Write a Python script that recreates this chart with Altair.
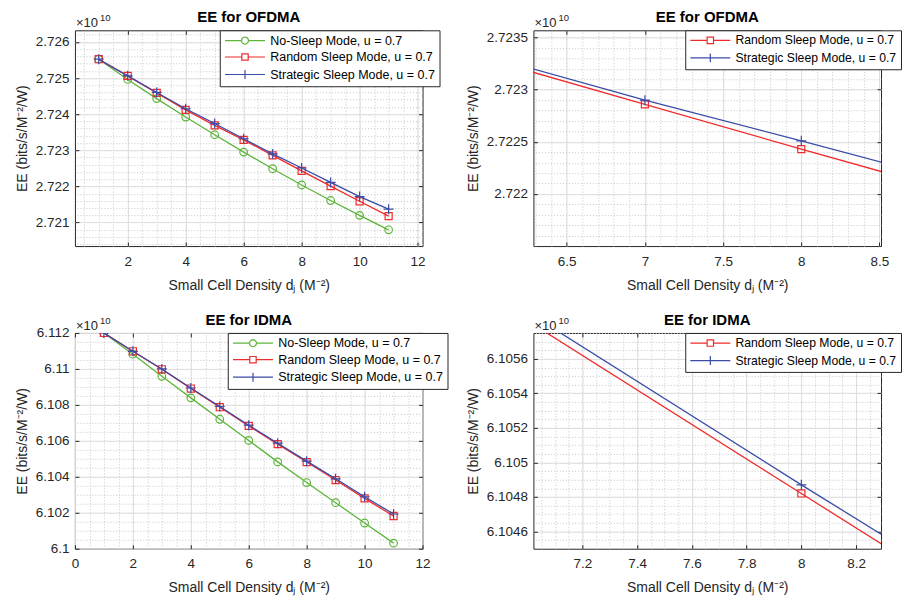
import altair as alt
import numpy as np
import pandas as pd

# ---------------- data (EE values in units of 1e10) ----------------
DENSITY = [1, 2, 3, 4, 5, 6, 7, 8, 9, 10, 11]
SERIES = ["No-Sleep Mode, u = 0.7", "Random Sleep Mode, u = 0.7", "Strategic Sleep Mode, u = 0.7"]

OFDMA_NO_SLEEP = [2.72552, 2.72496, 2.72443, 2.72392, 2.72343, 2.72295, 2.72249, 2.72204, 2.72161, 2.72120, 2.72080]
OFDMA_RANDOM = [2.72552, 2.72506, 2.72459, 2.72412, 2.72369, 2.72329, 2.72286, 2.72243, 2.72201, 2.72159, 2.72118]
OFDMA_STRATEGIC = [2.72552, 2.72506, 2.72460, 2.72415, 2.72374, 2.72332, 2.72290, 2.72251, 2.72211, 2.72172, 2.72137]

IDMA_NO_SLEEP = [6.11200, 6.11082, 6.10959, 6.10839, 6.10720, 6.10602, 6.10483, 6.10368, 6.10256, 6.10143, 6.10031]
IDMA_RANDOM = [6.11200, 6.11098, 6.10998, 6.10891, 6.10787, 6.10683, 6.10582, 6.10482, 6.10382, 6.10280, 6.10182]
IDMA_STRATEGIC = [6.11200, 6.11098, 6.11000, 6.10894, 6.10791, 6.10687, 6.10587, 6.10487, 6.10389, 6.10289, 6.10193]

EXPONENT_BASE = ["\u00d710"]
EXPONENT_POWER = ["10"]

# ---------------- styles ----------------
FONT = "Liberation Sans"
INK = "#262626"
GRID = "#dedede"
MINOR = "#c6c6c6"
COLORS = {SERIES[0]: "#5db53b", SERIES[1]: "#ef2b2b", SERIES[2]: "#3a4ca6"}
X_TITLE = "Small Cell Density d\u2c7c (M\u207b\u00b2)"
Y_TITLE = "EE (bits/s/M\u207b\u00b2/W)"
W, H = 348, 216

# legend symbols: a 40px line with the marker in the middle (size 64 -> 4px per unit)
U = 4.0
L0, L1, MC = -5 / U, 35 / U, 15 / U


def circle_poly(cx, r, n=20):
    pts = [(cx + r * np.cos(2 * np.pi * k / n), r * np.sin(2 * np.pi * k / n)) for k in range(n)]
    return "M" + "L".join(f"{x:.3f},{y:.3f}" for x, y in pts) + "Z"


r_c = 3.5 / U
s_q = 3.2 / U
a_p = 4.5 / U
LEGEND_PATHS = {
    SERIES[0]: f"M{L0},0H{MC - r_c:.3f}M{MC + r_c:.3f},0H{L1}" + circle_poly(MC, r_c),
    SERIES[1]: f"M{L0},0H{MC - s_q:.3f}M{MC + s_q:.3f},0H{L1}"
    f"M{MC - s_q:.3f},{-s_q:.3f}H{MC + s_q:.3f}V{s_q:.3f}H{MC - s_q:.3f}Z",
    SERIES[2]: f"M{L0},0H{L1}M{MC:.3f},{-a_p:.3f}V{a_p:.3f}",
}
MARKERS = {SERIES[0]: ("circle", 58), SERIES[1]: ("square", 50), SERIES[2]: ("M-1,0H1M0,-1V1", 100)}


def long_df(columns):
    rows = []
    for name, vals in columns:
        for d, v in zip(DENSITY, vals):
            rows.append({"d": d, "ee": v, "series": name})
    return pd.DataFrame(rows)


def minor_values(lo, hi, step):
    n = int(round((hi - lo) / step))
    return [round(lo + k * step, 7) for k in range(n + 1)]


def panel(df, series, title, xdom, ydom, xticks, yticks, xminor, yminor, xfmt, yfmt, legend_x, legend_font):
    xs = alt.Scale(domain=xdom, nice=False, zero=False)
    ys = alt.Scale(domain=ydom, nice=False, zero=False)
    cs = alt.Scale(domain=series, range=[COLORS[s] for s in series])
    base = alt.Chart(df)

    def hidden_axes(xaxis, yaxis):
        return base.mark_point(opacity=0, clip=True).encode(
            x=alt.X("d:Q", scale=xs, axis=xaxis),
            y=alt.Y("ee:Q", scale=ys, axis=yaxis),
        )

    minor = hidden_axes(
        alt.Axis(orient="top", values=xminor, grid=True, gridDash=[1, 2], gridColor=MINOR, gridWidth=1,
                 labels=False, ticks=False, domain=False, title=None),
        alt.Axis(orient="right", values=yminor, grid=True, gridDash=[1, 2], gridColor=MINOR, gridWidth=1,
                 labels=False, ticks=False, domain=False, title=None),
    )
    ticks_bl = hidden_axes(
        alt.Axis(orient="bottom", values=xticks, offset=-4, ticks=True, tickSize=4, tickColor=INK,
                 tickWidth=1, labels=False, domain=False, grid=False, title=None),
        alt.Axis(orient="left", values=yticks, offset=-4, ticks=True, tickSize=4, tickColor=INK,
                 tickWidth=1, labels=False, domain=False, grid=False, title=None),
    )
    ticks_tr = hidden_axes(
        alt.Axis(orient="top", values=xticks, offset=-4, ticks=True, tickSize=4, tickColor=INK,
                 tickWidth=1, labels=False, domain=False, grid=False, title=None),
        alt.Axis(orient="right", values=yticks, offset=-4, ticks=True, tickSize=4, tickColor=INK,
                 tickWidth=1, labels=False, domain=False, grid=False, title=None),
    )

    main_axes = base.mark_point(opacity=0, clip=True).encode(
        x=alt.X("d:Q", scale=xs, axis=alt.Axis(
            orient="bottom", values=xticks, format=xfmt, grid=True, gridColor=GRID, gridWidth=1,
            ticks=False, tickSize=0, domain=False, labelPadding=8, labelFlush=False, labelOverlap=False,
            title=X_TITLE, titlePadding=10.5)),
        y=alt.Y("ee:Q", scale=ys, axis=alt.Axis(
            orient="left", values=yticks, format=yfmt, grid=True, gridColor=GRID, gridWidth=1,
            ticks=False, tickSize=0, domain=False, labelPadding=6, labelFlush=False, labelOverlap=False,
            title=Y_TITLE, titlePadding=6)),
    )

    series_layers = []
    for s in series:
        shape, size = MARKERS[s]
        sub = base.transform_filter(alt.datum.series == s)
        series_layers.append(
            sub.mark_line(clip=True, strokeWidth=1.3, color=COLORS[s]).encode(
                x=alt.X("d:Q", scale=xs, axis=None),
                y=alt.Y("ee:Q", scale=ys, axis=None),
            )
        )
        series_layers.append(
            sub.mark_point(shape=shape, size=size, filled=False, strokeWidth=1.2, clip=True,
                           opacity=1, color=COLORS[s]).encode(
                x=alt.X("d:Q", scale=xs, axis=None),
                y=alt.Y("ee:Q", scale=ys, axis=None),
            )
        )

    leg = alt.Legend(
        orient="none", legendX=legend_x, legendY=0, title=None,
        fillColor="white", strokeColor=INK, padding=4, cornerRadius=0,
        labelFont=FONT, labelFontSize=legend_font, labelColor="black", labelOffset=34, labelLimit=400,
        symbolSize=64, symbolStrokeWidth=1.2, symbolOpacity=1, symbolFillColor="transparent",
        rowPadding=3.5,
    )
    legend_layer = base.mark_point(opacity=0, filled=False, clip=True).encode(
        x=alt.X("d:Q", scale=xs, axis=None),
        y=alt.Y("ee:Q", scale=ys, axis=None),
        color=alt.Color("series:N", scale=cs, legend=leg),
        shape=alt.Shape("series:N", scale=alt.Scale(domain=series, range=[LEGEND_PATHS[s] for s in series]),
                        legend=leg),
    )

    title_layer = alt.Chart(pd.DataFrame({"t": [title]})).mark_text(
        align="center", baseline="alphabetic", font=FONT, fontSize=15, fontWeight="bold", color="black"
    ).encode(text="t:N", x=alt.value(W / 2), y=alt.value(-8))
    exp_base = alt.Chart(pd.DataFrame({"t": EXPONENT_BASE})).mark_text(
        align="left", baseline="alphabetic", font=FONT, fontSize=13, color=INK
    ).encode(text="t:N", x=alt.value(1), y=alt.value(-3))
    exp_pow = alt.Chart(pd.DataFrame({"t": EXPONENT_POWER})).mark_text(
        align="left", baseline="alphabetic", font=FONT, fontSize=9.5, color=INK
    ).encode(text="t:N", x=alt.value(25), y=alt.value(-9))

    return alt.layer(
        minor, ticks_bl, ticks_tr, main_axes, *series_layers, legend_layer, title_layer, exp_base, exp_pow
    ).resolve_axis(x="independent", y="independent").properties(width=W, height=H)


df_o3 = long_df([(SERIES[0], OFDMA_NO_SLEEP), (SERIES[1], OFDMA_RANDOM), (SERIES[2], OFDMA_STRATEGIC)])
df_o2 = long_df([(SERIES[1], OFDMA_RANDOM), (SERIES[2], OFDMA_STRATEGIC)])
df_i3 = long_df([(SERIES[0], IDMA_NO_SLEEP), (SERIES[1], IDMA_RANDOM), (SERIES[2], IDMA_STRATEGIC)])
df_i2 = long_df([(SERIES[1], IDMA_RANDOM), (SERIES[2], IDMA_STRATEGIC)])

tl = panel(df_o3, SERIES, "EE for OFDMA", [0.18, 12.17], [2.72035, 2.72632],
           [2, 4, 6, 8, 10, 12], [2.721, 2.722, 2.723, 2.724, 2.725, 2.726],
           minor_values(0.5, 12.0, 0.5), minor_values(2.7204, 2.7262, 0.0002), "d", ".3f", 145, 12.5)
tr = panel(df_o2, SERIES[1:], "EE for OFDMA", [6.287, 8.51], [2.7215, 2.72357],
           [6.5, 7, 7.5, 8, 8.5], [2.722, 2.7225, 2.723, 2.7235],
           minor_values(6.3, 8.5, 0.1), minor_values(2.7216, 2.7235, 0.0001), ".1~f", ".4~f", 152, 12.2)
bl = panel(df_i3, SERIES, "EE for IDMA", [0, 12], [6.1, 6.112],
           [0, 2, 4, 6, 8, 10, 12], [6.1, 6.102, 6.104, 6.106, 6.108, 6.11, 6.112],
           minor_values(0.5, 11.5, 0.5), minor_values(6.1005, 6.1115, 0.0005), "d", ".3~f", 153, 12.5)
br = panel(df_i2, SERIES[1:], "EE for IDMA", [7.021, 8.291], [6.1045, 6.10575],
           [7.2, 7.4, 7.6, 7.8, 8.0, 8.2], [6.1046, 6.1048, 6.105, 6.1052, 6.1054, 6.1056],
           minor_values(7.05, 8.25, 0.05), minor_values(6.10455, 6.10575, 0.00005), ".1~f", ".4~f", 152, 12.2)

chart = alt.concat(
    tl, tr, bl, br, columns=2, spacing={"row": 87, "column": 111}, bounds="flush"
).resolve_scale(
    color="independent", shape="independent"
).properties(
    padding={"left": 6, "top": 1, "right": 0, "bottom": 0},
    background="white",
).configure_view(
    stroke=INK, strokeWidth=1, fill="white"
).configure_axis(
    labelFont=FONT, labelFontSize=13.5, labelColor=INK,
    titleFont=FONT, titleFontSize=14, titleFontWeight="normal", titleColor=INK,
).configure_legend(
    strokeWidth=1
)

chart.save("out.html", embed_options={"renderer": "svg", "actions": False})
